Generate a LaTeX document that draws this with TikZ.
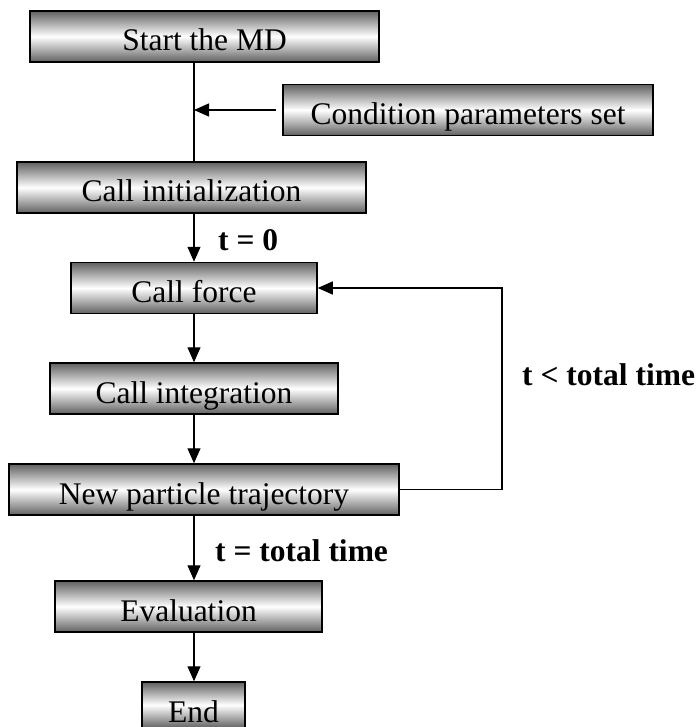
\documentclass[tikz,border=0pt]{standalone}
\usepackage{fontspec}
\setmainfont{Liberation Serif}
\usetikzlibrary{arrows.meta}
\begin{document}
\begin{tikzpicture}[x=1pt,y=-1pt,
  box/.style={draw=black, line width=1.5pt, rectangle, inner sep=0pt,
    top color=black!62, bottom color=black!62, middle color=white,
    text height=40pt, text depth=11pt,
    font=\fontsize{31.5}{36}\selectfont},
  lbl/.style={font=\fontsize{31.5}{36}\selectfont\bfseries, inner sep=0pt, anchor=base west},
  arr/.style={line width=1.3pt, -{Triangle[length=15pt,width=13pt]}},
  ln/.style={line width=1.3pt}]
\useasboundingbox (0,0) rectangle (699,727);
\coordinate (spine) at (194,0);
\node[box, minimum width=349pt] (start) at (204.5,36.5) {Start the MD};
\node[box, minimum width=370pt] (cond) at (468,110) {Condition parameters set};
\node[box, minimum width=349pt] (init) at (191.5,187.5) {Call initialization};
\node[box, minimum width=246pt] (force) at (194,288) {Call force};
\node[box, minimum width=288pt] (integ) at (194,388.5) {Call integration};
\node[box, minimum width=390pt] (npt) at (204,489.5) {New particle trajectory};
\node[box, minimum width=267pt] (eval) at (188.5,606.5) {Evaluation};
\node[box, minimum width=103pt, text depth=6pt] (end) at (193.5,705) {End};
\coordinate (loopR) at (502,0);
\node[lbl] (t0) at (218,250) {t = 0};
\node[lbl] (tlt) at (522,385) {t < total time};
\node[lbl] (teq) at (215,561) {t = total time};
\draw[ln] (start.south -| spine) -- (init.north -| spine);
\draw[arr] ([xshift=-6pt]cond.west) -- (cond.west -| spine);
\draw[arr] (init.south -| spine) -- (force.north -| spine);
\draw[arr] (force.south -| spine) -- (integ.north -| spine);
\draw[arr] (integ.south -| spine) -- (npt.north -| spine);
\draw[arr] (npt.south -| spine) -- (eval.north -| spine);
\draw[arr] (eval.south -| spine) -- (end.north -| spine);
\draw[arr] (npt.east) -- (npt.east -| loopR) -- (force.east -| loopR) -- (force.east);
\end{tikzpicture}
\end{document}
